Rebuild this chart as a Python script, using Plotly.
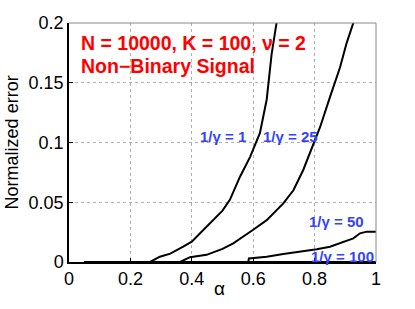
import plotly.graph_objects as go

# Data
x_g1 = [0.05, 0.264, 0.296, 0.33, 0.372, 0.40, 0.427, 0.47, 0.50, 0.524, 0.557, 0.59, 0.622, 0.644, 0.660, 0.676, 0.69]
y_g1 = [0.0, 0.0, 0.0044, 0.007, 0.0128, 0.017, 0.024, 0.035, 0.043, 0.052, 0.0714, 0.088, 0.108, 0.136, 0.174, 0.2, 0.22]

x_g25 = [0.05, 0.362, 0.394, 0.448, 0.50, 0.535, 0.600, 0.644, 0.698, 0.731, 0.763, 0.796, 0.818, 0.850, 0.883, 0.904, 0.926, 0.94]
y_g25 = [0.0, 0.0, 0.004, 0.006, 0.011, 0.0156, 0.027, 0.035, 0.049, 0.060, 0.077, 0.099, 0.113, 0.138, 0.163, 0.183, 0.2, 0.215]

x_g50 = [0.05, 0.584, 0.586, 0.644, 0.698, 0.752, 0.807, 0.850, 0.893, 0.926, 0.948, 0.970, 1.0]
y_g50 = [0.0, 0.0, 0.003, 0.0044, 0.0067, 0.0086, 0.0106, 0.0128, 0.017, 0.0198, 0.024, 0.0254, 0.0254]

x_g100 = [0.05, 1.0]
y_g100 = [0.0, 0.0]

series_names = ["1/γ = 1", "1/γ = 25", "1/γ = 50", "1/γ = 100"]
label_x = [0.50, 0.72, 0.872, 0.89]
label_y = [0.105, 0.105, 0.0337, 0.0044]

x_ticks = [0, 0.2, 0.4, 0.6, 0.8, 1]
x_tick_text = ["0", "0.2", "0.4", "0.6", "0.8", "1"]
y_ticks = [0, 0.05, 0.1, 0.15, 0.2]
y_tick_text = ["0", "0.05", "0.1", "0.15", "0.2"]

fig = go.Figure()
for xs, ys, nm in zip([x_g1, x_g25, x_g50, x_g100], [y_g1, y_g25, y_g50, y_g100], series_names):
    fig.add_trace(go.Scatter(x=xs, y=ys, mode="lines", name=nm,
                             line=dict(color="black", width=2), showlegend=False))

font = "Liberation Sans, Arial, Helvetica, sans-serif"
for nm, lx, ly in zip(series_names, label_x, label_y):
    fig.add_annotation(x=lx, y=ly, text="<b>" + nm + "</b>", showarrow=False,
                       font=dict(family=font, size=15, color="#3344ff"),
                       xanchor="center", yanchor="middle")

fig.add_annotation(x=0.033, y=0.1835, text="<b>N = 10000, K = 100, ν = 2</b>", showarrow=False,
                   font=dict(family=font, size=19.5, color="#ff0000"), xanchor="left", yanchor="middle")
fig.add_annotation(x=0.033, y=0.1643, text="<b>Non−Binary Signal</b>", showarrow=False,
                   font=dict(family=font, size=19.5, color="#ff0000"), xanchor="left", yanchor="middle")

# axis titles
fig.add_annotation(xref="paper", yref="paper", x=0.49, y=-0.111, text="α", showarrow=False,
                   font=dict(family=font, size=19, color="black"), xanchor="center", yanchor="middle")
fig.add_annotation(xref="paper", yref="paper", x=-0.186, y=0.5, text="Normalized error", showarrow=False,
                   textangle=-90, font=dict(family=font, size=18, color="black"),
                   xanchor="center", yanchor="middle")

# top and right box edges
fig.add_shape(type="line", xref="paper", yref="paper", x0=0, x1=1, y0=1, y1=1,
              line=dict(color="#888888", width=1))
fig.add_shape(type="line", xref="paper", yref="paper", x0=1, x1=1, y0=0, y1=1,
              line=dict(color="#888888", width=1))

fig.update_layout(
    width=415, height=309,
    margin=dict(l=69, r=39, t=23, b=47, autoexpand=False),
    paper_bgcolor="white", plot_bgcolor="white",
    font=dict(family=font, size=18, color="black"),
    xaxis=dict(range=[0, 1], tickvals=x_ticks, ticktext=x_tick_text, automargin=False,
               showgrid=True, gridcolor="#b0b0b0", griddash="dot", gridwidth=1,
               showline=True, linecolor="black", linewidth=1.5,
               ticks="inside", ticklen=4, tickcolor="black", zeroline=False),
    yaxis=dict(range=[0, 0.2], tickvals=y_ticks, ticktext=y_tick_text, automargin=False,
               showgrid=True, gridcolor="#b0b0b0", griddash="dot", gridwidth=1,
               showline=True, linecolor="black", linewidth=1.5,
               ticks="inside", ticklen=4, tickcolor="black", zeroline=False),
)

fig.write_html("out.html", config={"displayModeBar": False},
               post_script="document.body.style.margin='0';document.body.style.overflow='hidden';")
